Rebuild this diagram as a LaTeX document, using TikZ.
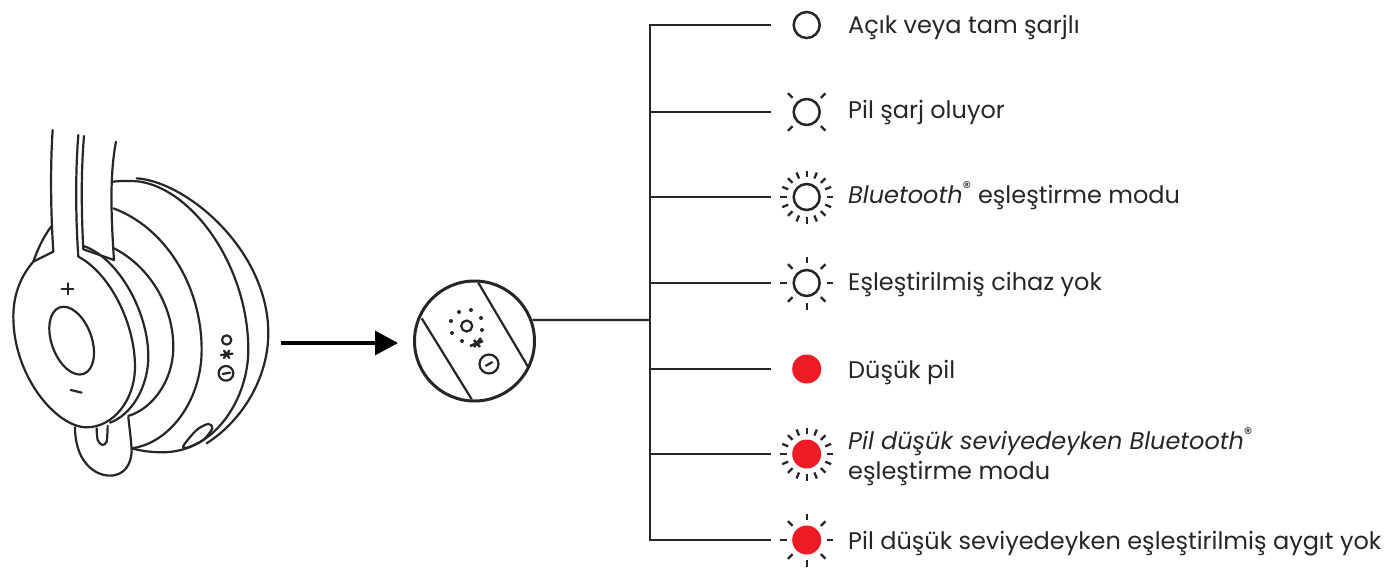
\documentclass[tikz,border=0pt]{standalone}
\usepackage{fontspec}
\setmainfont{Poppins}
\usetikzlibrary{arrows.meta}

\definecolor{inkline}{HTML}{262626}
\definecolor{ledred}{HTML}{ED1C24}

\tikzset{
	wire/.style = {draw=inkline, line width=2.2pt},
	outline/.style = {draw=inkline, line width=2.2pt},
	ledopen/.style = {shape=circle, draw=inkline, line width=2.5pt, minimum size=26pt, inner sep=0pt},
	ledfull/.style = {shape=circle, fill=ledred, minimum size=29pt, inner sep=0pt},
	ray/.style = {draw=inkline, line width=2.3pt},
	caption/.style = {anchor=base west, inner sep=0pt, text=inkline, font=\fontsize{24}{30}\selectfont, align=left}
}

% spokes round one led
\newcommand{\ledrays}[2]{
	\foreach \ang in {#2}
		\draw [ray] (#1) ++(\ang:20) -- ++(\ang:6.5);
}

\begin{document}
\begin{tikzpicture}[x=1pt, y=-1pt]
	\useasboundingbox (0,0) rectangle (1385,568);

	% headset, traced
	\begin{scope}[shift={(0,110)}, x=0.3333pt, y=-0.3333pt, outline, line cap=round, line join=round]
		\draw (158,60) .. controls (150,180) and (153,320) .. (160,425) -- (100,455);
		\draw (235,75) .. controls (225,200) and (228,340) .. (235,440);
		\draw (252,78) .. controls (242,200) and (245,320) .. (250,418) -- (342,450) .. controls (332,300) and (330,190) .. (348,95);
		\draw (155,348) .. controls (130,380) and (112,420) .. (100,455);
		\draw (235,440) .. controls (330,490) and (405,640) .. (405,770) .. controls (405,870) and (340,952) .. (260,952)
			.. controls (170,952) and (40,800) .. (40,620) .. controls (40,550) and (65,495) .. (100,455);
		\draw (250,408) .. controls (350,440) and (445,600) .. (445,740) .. controls (445,830) and (395,915) .. (330,938);
		\draw (342,415) .. controls (450,470) and (520,590) .. (520,710) .. controls (520,810) and (460,895) .. (385,918);
		\draw (340,295) .. controls (490,350) and (605,520) .. (605,720) .. controls (605,870) and (510,1000) .. (395,1015);
		\draw (340,215) .. controls (365,212) and (395,212) .. (420,215) .. controls (580,240) and (745,470) .. (745,720)
			.. controls (745,860) and (650,1025) .. (490,1027) .. controls (450,1027) and (420,1022) .. (395,1015);
		\draw (410,205) .. controls (560,215) and (805,420) .. (805,670) .. controls (805,800) and (730,930) .. (620,1000);
		\draw (225,952) .. controls (225,1050) and (280,1097) .. (330,1097) .. controls (375,1097) and (395,1060) .. (395,1020)
			.. controls (393,985) and (388,950) .. (385,922);
		\draw plot [smooth] coordinates {(290,955) (293,990) (307,1005) (320,995) (323,948)};
		\draw (215,692) ellipse [x radius=60, y radius=106, rotate=20];
		\draw (185,537) -- (220,537) (203,520) -- (203,553);
		\draw (212,840) -- (245,848);
		\draw (680,690) circle [radius=14];
		\draw (663,735) -- (698,731) (672,722) -- (688,744) (688,722) -- (672,744);
		\draw (678,790) circle [radius=22];
		\draw (668,792) -- (690,788);
		\draw plot [smooth cycle] coordinates {(550,1008) (590,960) (625,942) (637,955) (610,990) (565,1012)};
	\end{scope}

	% pointer
	\draw [-{Triangle[length=23pt, width=24pt]}, draw=black, line width=3.2pt] (281,343) -- (398,343);

	% button close up
	\node (badge) [shape=circle, draw=inkline, line width=3pt, minimum size=120pt, inner sep=0pt] at (474.5,341) {};
	\begin{scope}[outline]
		\draw (421.7,318.3) -- (471.7,399.3);
		\draw (478.3,282.7) -- (528.3,367.3);
		\draw (466.7,326) circle [radius=5.5];
		\draw (489,364) circle [radius=9.5];
		\draw (485.5,366) -- (492.5,362);
		\draw [line width=2.6pt] (470,346) -- (483,341) (474,340) -- (480,347) (481,338) -- (474,347);
		\foreach \dotx/\doty in {459/312, 471/310, 481/318, 482/330, 462/341, 452/333, 451/321}
			\fill [inkline] (\dotx,\doty) circle [radius=2];
	\end{scope}

	% legend rows
	\node (led1) [ledopen] at (806.7,25) {};
	\node (led2) [ledopen] at (806.7,112) {};
	\node (led3) [ledopen] at (806.7,197) {};
	\node (led4) [ledopen] at (806.7,283) {};
	\node (led5) [ledfull] at (806.7,369) {};
	\node (led6) [ledfull] at (806.7,454) {};
	\node (led7) [ledfull] at (806.7,540) {};

	\ledrays{led2.center}{45,135,225,315}
	\ledrays{led3.center}{0,22.5,...,359}
	\ledrays{led4.center}{0,45,...,359}
	\ledrays{led6.center}{0,22.5,...,359}
	\ledrays{led7.center}{0,45,...,359}

	\node (text1) [caption] at (848,33) {Açık veya tam şarjlı};
	\node (text2) [caption] at (848,118) {Pil şarj oluyor};
	\node (text3) [caption] at (848,203) {\textit{Bluetooth}\textsuperscript{®} eşleştirme modu};
	\node (text4) [caption] at (848,290) {Eşleştirilmiş cihaz yok};
	\node (text5) [caption] at (848,378) {Düşük pil};
	\node (text6) [caption] at (848,479) {\textit{Pil düşük seviyedeyken Bluetooth}\textsuperscript{®}\\eşleştirme modu};
	\node (text7) [caption] at (848,549) {Pil düşük seviyedeyken eşleştirilmiş aygıt yok};

	% tree of wires
	\coordinate (trunk) at (650,320);
	\draw [wire] (badge.20.5) -- (trunk);
	\draw [wire, shorten >=21pt] (trunk) |- (led1);
	\draw [wire, shorten >=21pt] (trunk) |- (led2);
	\draw [wire, shorten >=21pt] (trunk) |- (led3);
	\draw [wire, shorten >=21pt] (trunk) |- (led4);
	\draw [wire, shorten >=21pt] (trunk) |- (led5);
	\draw [wire, shorten >=21pt] (trunk) |- (led6);
	\draw [wire, shorten >=21pt] (trunk) |- (led7);
\end{tikzpicture}
\end{document}
